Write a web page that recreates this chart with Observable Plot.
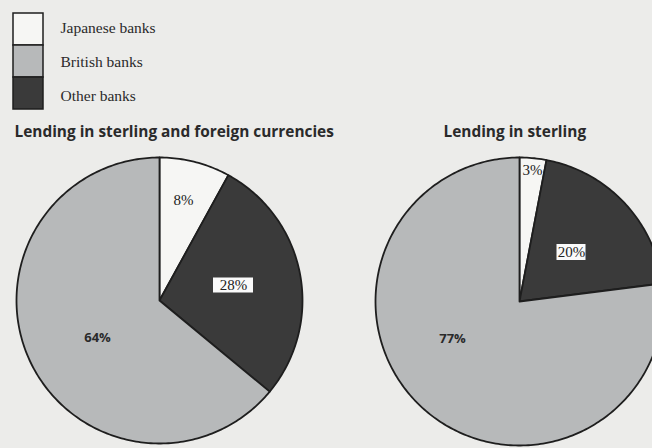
<!DOCTYPE html>
<html>
<head>
<meta charset="utf-8">
<script src="https://cdn.jsdelivr.net/npm/d3@7"></script>
<script src="https://cdn.jsdelivr.net/npm/@observablehq/plot@0.6"></script>
<style>
  html, body { margin: 0; padding: 0; background: #ececea; }
  #chart svg { display: block; background: #ececea; }
</style>
</head>
<body>
<div id="chart"></div>
<script>
// ---- data ----
const categories = ["Japanese banks", "British banks", "Other banks"];
const sliceOrder = ["Japanese banks", "Other banks", "British banks"]; // clockwise from 12 o'clock
const pieTitles = ["Lending in sterling and foreign currencies", "Lending in sterling"];
const sharesAllCurrencies = [8, 64, 28];   // Japanese, British, Other (%)
const sharesSterling = [3, 77, 20];        // Japanese, British, Other (%)
const colors = ["#f6f6f4", "#b7b9ba", "#3a3a3a"];

// ---- layout (pixel geometry) ----
const W = 652, H = 448;
const pies = [
  {cx: 159, cy: 300, r: 143, titleX: 14, values: sharesAllCurrencies,
   labelOff: {"Japanese banks": [24, -100], "Other banks": [74, -15], "British banks": [-62, 37]},
   boxed: {"Other banks": [40, 15]}},
  {cx: 519, cy: 301, r: 144, titleX: 443, values: sharesSterling,
   labelOff: {"Japanese banks": [13, -131], "Other banks": [52, -49], "British banks": [-67, 37]},
   boxed: {"Other banks": [29, 16]}}
];
const titleY = 132;
const legend = {x1: 13, x2: 43, y0: 13, rowH: 32, textX: 60, textY0: 28, textStep: 34};

// ---- build slice polygons from the shares ----
const piePoints = [];
const labels = [];
const boxes = [];
pies.forEach((p, pi) => {
  const vals = sliceOrder.map(c => ({cat: c, v: p.values[categories.indexOf(c)]}));
  const arcs = d3.pie().sort(null).value(d => d.v).startAngle(0).endAngle(2 * Math.PI)(vals);
  arcs.forEach(a => {
    const key = pi + "-" + a.data.cat;
    const pts = [{key, cat: a.data.cat, x: p.cx, y: p.cy}];
    const n = Math.max(2, Math.ceil((a.endAngle - a.startAngle) / (Math.PI / 180)));
    for (let i = 0; i <= n; i++) {
      const t = a.startAngle + (a.endAngle - a.startAngle) * i / n;
      pts.push({key, cat: a.data.cat, x: p.cx + p.r * Math.sin(t), y: p.cy - p.r * Math.cos(t)});
    }
    pts.push({key, cat: a.data.cat, x: p.cx, y: p.cy});
    piePoints.push(...pts);
    const off = p.labelOff[a.data.cat];
    const lbl = {x: p.cx + off[0], y: p.cy + off[1], text: a.data.v + "%", cat: a.data.cat};
    labels.push(lbl);
    if (p.boxed[a.data.cat]) {
      const [bw, bh] = p.boxed[a.data.cat];
      boxes.push({x1: lbl.x - bw / 2, x2: lbl.x + bw / 2, y1: lbl.y - bh / 2, y2: lbl.y + bh / 2});
    }
  });
});
const serifLabels = labels.filter(d => d.cat !== "British banks");
const sansLabels = labels.filter(d => d.cat === "British banks");

const titles = pieTitles.map((t, i) => ({text: t, x: pies[i].titleX, y: titleY}));
const legendRows = categories.map((c, i) => ({
  cat: c,
  x1: legend.x1, x2: legend.x2,
  y1: legend.y0 + i * legend.rowH, y2: legend.y0 + (i + 1) * legend.rowH,
  tx: legend.textX, ty: legend.textY0 + i * legend.textStep
}));

const chart = Plot.plot({
  width: W, height: H,
  margin: 0,
  x: {domain: [0, W], axis: null},
  y: {domain: [H, 0], axis: null},
  color: {domain: categories, range: colors},
  style: {background: "#ececea"},
  marks: [
    Plot.line(piePoints, {x: "x", y: "y", z: "key", fill: "cat", stroke: "#1e1e1e",
      strokeWidth: 1.8, strokeLinejoin: "round", curve: "linear"}),
    Plot.rect(boxes, {x1: "x1", x2: "x2", y1: "y1", y2: "y2", fill: "#fafafa"}),
    Plot.text(serifLabels, {x: "x", y: "y", text: "text", fontSize: 15, fill: "#222",
      fontFamily: "Liberation Serif, serif"}),
    Plot.text(sansLabels, {x: "x", y: "y", text: "text", fontSize: 13, fontWeight: "bold", fill: "#2a2a2a",
      fontFamily: "Open Sans, sans-serif"}),
    Plot.rect(legendRows, {x1: "x1", x2: "x2", y1: "y1", y2: "y2", fill: "cat",
      stroke: "#1e1e1e", strokeWidth: 1.5}),
    Plot.text(legendRows, {x: "tx", y: "ty", text: "cat", textAnchor: "start", fontSize: 15.5,
      fill: "#2a2a2a", fontFamily: "Liberation Serif, serif"}),
    Plot.text(titles, {x: "x", y: "y", text: "text", textAnchor: "start", fontSize: 15.4,
      fontWeight: "bold", fill: "#2a2a2a", fontFamily: "Open Sans, sans-serif"})
  ]
});
document.getElementById("chart").appendChild(chart);
</script>
</body>
</html>
